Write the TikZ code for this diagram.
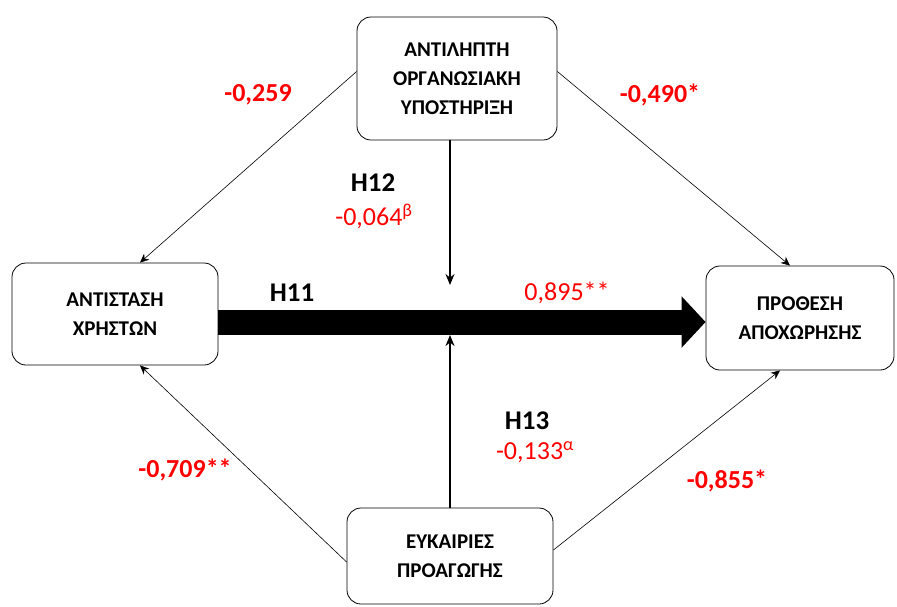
\documentclass[tikz,border=0pt]{standalone}
\usepackage{fontspec}
\setmainfont{Carlito}
\usetikzlibrary{arrows.meta}
\tikzset{
  factor/.style={draw, thick, rounded corners=14pt, align=center,
    font=\fontsize{21}{29}\selectfont\bfseries, inner sep=0pt},
  hyp/.style={font=\fontsize{27}{30}\selectfont\bfseries},
  coefb/.style={text=red, font=\fontsize{26}{30}\selectfont\bfseries},
  coef/.style={text=red, font=\fontsize{26}{30}\selectfont},
  path/.style={-{Stealth[length=9pt,width=8pt]}, semithick},
  mod/.style={-{Stealth[length=11pt,width=9pt]}, line width=1.6pt}
}
\begin{document}
\begin{tikzpicture}[x=1pt,y=-1pt]
  \useasboundingbox (0,0) rectangle (897,606);
  % constructs
  \node[factor, minimum width=200pt, minimum height=123pt] (aos) at (457,78.5)
    {ΑΝΤΙΛΗΠΤΗ\\ΟΡΓΑΝΩΣΙΑΚΗ\\ΥΠΟΣΤΗΡΙΞΗ};
  \node[factor, minimum width=206pt, minimum height=102pt] (ax) at (115,314)
    {ΑΝΤΙΣΤΑΣΗ\\ΧΡΗΣΤΩΝ};
  \node[factor, minimum width=188pt, minimum height=104pt] (pa) at (800,318)
    {ΠΡΟΘΕΣΗ\\ΑΠΟΧΩΡΗΣΗΣ};
  \node[factor, minimum width=206pt, minimum height=96pt] (ep) at (450,556)
    {ΕΥΚΑΙΡΙΕΣ\\ΠΡΟΑΓΩΓΗΣ};
  \coordinate (m1) at (450,285);
  \coordinate (m2) at (450,335);
  % main effect
  \draw[line width=25pt, -{Triangle[length=24pt,width=50pt]}]
    ([yshift=-8pt]ax.east) -- ([yshift=-4pt]pa.west);
  % moderators
  \draw[mod] (aos.south -| m1) -- (m1);
  \draw[mod] (ep.north -| m2) -- (m2);
  % direct paths
  \draw[path] ([yshift=7pt]aos.west) -- ([xshift=25pt]ax.north);
  \draw[path] ([yshift=7pt]aos.east) -- ([xshift=-10pt]pa.north);
  \draw[path] ([yshift=-6pt]ep.west) -- ([xshift=25pt]ax.south);
  \draw[path] ([yshift=6pt]ep.east) -- ([xshift=-20pt]pa.south);
  % labels
  \node[coefb] (l1) at (258,95) {-0,259};
  \node[coefb] (l2) at (660,95) {-0,490*};
  \node[hyp] (h12) at (373,183) {H12};
  \node[coef] (l3) at (374,216) {-0,064\textsuperscript{β}};
  \node[hyp] (h11) at (292,293) {H11};
  \node[coef] (l4) at (567,293) {0,895**};
  \node[hyp] (h13) at (527,421) {H13};
  \node[coef] (l5) at (535,452) {-0,133\textsuperscript{α}};
  \node[coefb] (l6) at (185,470) {-0,709**};
  \node[coefb] (l7) at (727,481) {-0,855*};
\end{tikzpicture}
\end{document}
